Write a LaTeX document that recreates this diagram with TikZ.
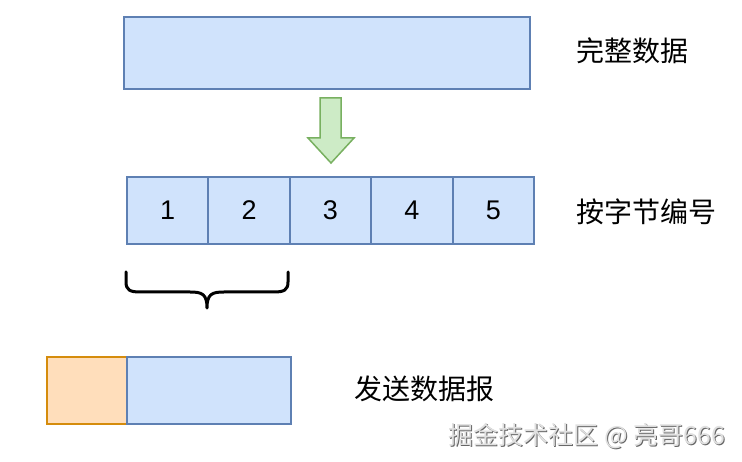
\documentclass[tikz,border=0pt]{standalone}
\usepackage{fontspec}
\setmainfont{Liberation Sans}
\newfontfamily\cjk{Noto Sans CJK SC}
\definecolor{bfill}{HTML}{D0E3FC}
\definecolor{bline}{HTML}{5E80B3}
\definecolor{ofill}{HTML}{FFDEBB}
\definecolor{oline}{HTML}{D58C0C}
\definecolor{gfill}{HTML}{CDEBC6}
\definecolor{gline}{HTML}{78B060}
\begin{document}
\begin{tikzpicture}[x=1pt,y=-1pt,
  bluebox/.style={draw=bline,fill=bfill,line width=2pt},
  orangebox/.style={draw=oline,fill=ofill,line width=2pt},
  cell/.style={bluebox,minimum width=81.4pt,minimum height=67pt,inner sep=0pt,font=\fontsize{27}{30}\selectfont},
  label/.style={font=\cjk\fontsize{28}{32}\selectfont,inner sep=0pt},
  wmark/.style={font=\cjk\fontsize{25}{29}\selectfont,inner sep=0pt}]
\useasboundingbox (0,0) rectangle (742,462);
\fill[white] (0,0) rectangle (742,462);
% full data
\node[bluebox,minimum width=406pt,minimum height=72pt,inner sep=0pt] (full) at (327,53) {};
\node[label] (lfull) at (632,51) {完整数据};
% arrow
\draw[draw=gline,fill=gfill,line width=1.5pt,line join=miter]
  (320,98) -- (341,98) -- (341,138) -- (354,138) -- (331,163) -- (308,138) -- (320,138) -- cycle;
% cells
\node[cell] (c1) at (167.7,210.5) {1};
\node[cell] (c2) at (249.1,210.5) {2};
\node[cell] (c3) at (330.5,210.5) {3};
\node[cell] (c4) at (411.9,210.5) {4};
\node[cell] (c5) at (493.3,210.5) {5};
\node[label] (lnum) at (646,212) {按字节编号};
% brace
\coordinate (bl) at (126,272);
\coordinate (br) at (288,272);
\coordinate (bt) at (207,308);
\draw[line width=3pt,line cap=round]
  (bl) -- (126,282) .. controls (126,290) and (130,292) .. (140,292)
  -- (190,292) .. controls (202,292) and (207,294) .. (bt)
  (br) -- (288,282) .. controls (288,290) and (284,292) .. (274,292)
  -- (224,292) .. controls (212,292) and (207,294) .. (bt);
% datagram
\node[orangebox,minimum width=80pt,minimum height=67pt,inner sep=0pt] (hdr) at (87,390.5) {};
\node[bluebox,minimum width=164pt,minimum height=67pt,inner sep=0pt] (pay) at (209,390.5) {};
\node[label] (lsend) at (424,389) {发送数据报};
% watermark
\node[wmark,text=black!60] (wms) at (588,437) {掘金技术社区 @ 亮哥666};
\node[wmark,text=black!12] (wm) at (587,436) {掘金技术社区 @ 亮哥666};
\end{tikzpicture}
\end{document}
